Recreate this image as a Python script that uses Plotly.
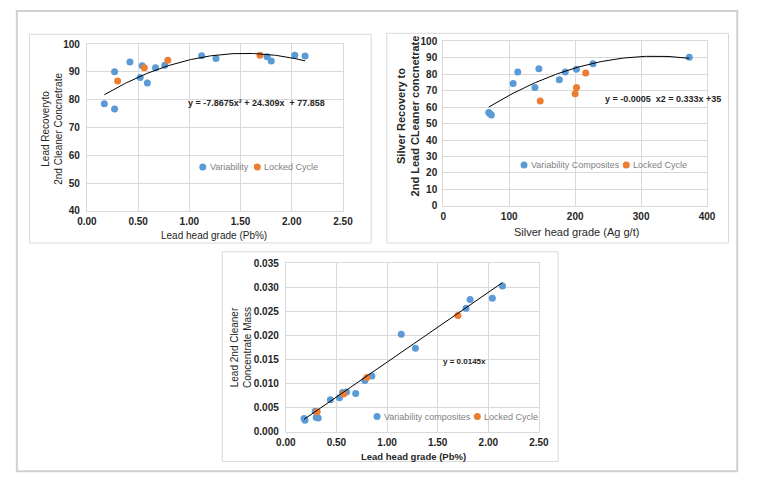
import numpy as np
import plotly.graph_objects as go

W, H = 757, 486

# ---------------- Data ----------------
# Panel 1: Lead recovery vs lead head grade
pb_var_1 = [0.17, 0.27, 0.27, 0.42, 0.52, 0.54, 0.59, 0.67, 0.76, 1.12, 1.26, 1.76, 1.80, 2.03, 2.13]
rec_var_1 = [78.5, 76.6, 90.0, 93.5, 88.0, 92.2, 86.0, 91.5, 92.4, 95.8, 94.8, 95.4, 93.9, 96.0, 95.7]
pb_lc_1 = [0.30, 0.56, 0.79, 1.69]
rec_lc_1 = [86.7, 91.5, 94.2, 96.0]
fit1_coef = [-7.8675, 24.309, 77.858]

# Panel 2: Silver recovery vs silver head grade
ag_var = [69, 71, 73, 106, 113, 139, 145, 176, 185, 202, 227, 373]
agrec_var = [56.7, 55.9, 55.1, 74.3, 81.2, 71.8, 83.2, 76.5, 81.2, 83.0, 86.2, 90.2]
ag_lc = [147, 200, 202, 216]
agrec_lc = [63.6, 68.1, 71.8, 80.6]
fit2_coef = [-0.000483, 0.3108, 40.85]

# Panel 3: Lead 2nd cleaner concentrate mass vs lead head grade
pb_var_3 = [0.18, 0.19, 0.29, 0.30, 0.32, 0.44, 0.53, 0.56, 0.60, 0.69, 0.78, 0.85,
            1.14, 1.28, 1.78, 1.82, 2.04, 2.14]
mass_var = [0.0028, 0.0024, 0.0043, 0.0030, 0.0029, 0.0067, 0.0071, 0.0082, 0.0083, 0.0080,
            0.0107, 0.0116, 0.0203, 0.0174, 0.0257, 0.0275, 0.0278, 0.0303]
pb_lc_3 = [0.31, 0.57, 0.80, 1.70]
mass_lc = [0.0042, 0.0079, 0.0113, 0.0242]
fit3_slope = 0.0145

x_ticks_pb = [0.0, 0.5, 1.0, 1.5, 2.0, 2.5]

BLUE = "#5B9BD5"
ORANGE = "#ED7D31"
GRID = "#d9d9d9"
FONT = "Liberation Sans, Arial, sans-serif"


def px(x):
    return x / W


def py(y):
    return 1 - y / H


fig = go.Figure()

# trend lines
xf1 = np.linspace(min(pb_var_1), max(pb_var_1), 100)
yf1 = np.polyval(fit1_coef, xf1)
xf2 = np.linspace(min(ag_var), max(ag_var), 100)
yf2 = np.polyval(fit2_coef, xf2)
xf3 = np.array([min(pb_var_3), max(pb_var_3)])
yf3 = fit3_slope * xf3

mk = dict(size=7)
# Panel 1
fig.add_trace(go.Scatter(x=pb_var_1, y=rec_var_1, mode="markers", name="Variability",
                         marker=dict(color=BLUE, **mk), xaxis="x", yaxis="y", showlegend=False))
fig.add_trace(go.Scatter(x=pb_lc_1, y=rec_lc_1, mode="markers", name="Locked Cycle",
                         marker=dict(color=ORANGE, **mk), xaxis="x", yaxis="y", showlegend=False))
fig.add_trace(go.Scatter(x=xf1, y=yf1, mode="lines", line=dict(color="black", width=1),
                         xaxis="x", yaxis="y", showlegend=False, hoverinfo="skip"))
# Panel 2
fig.add_trace(go.Scatter(x=ag_var, y=agrec_var, mode="markers", name="Variability Composites",
                         marker=dict(color=BLUE, **mk), xaxis="x2", yaxis="y2", showlegend=False))
fig.add_trace(go.Scatter(x=ag_lc, y=agrec_lc, mode="markers", name="Locked Cycle",
                         marker=dict(color=ORANGE, **mk), xaxis="x2", yaxis="y2", showlegend=False))
fig.add_trace(go.Scatter(x=xf2, y=yf2, mode="lines", line=dict(color="black", width=1),
                         xaxis="x2", yaxis="y2", showlegend=False, hoverinfo="skip"))
# Panel 3
fig.add_trace(go.Scatter(x=pb_var_3, y=mass_var, mode="markers", name="Variability composites",
                         marker=dict(color=BLUE, **mk), xaxis="x3", yaxis="y3", showlegend=False))
fig.add_trace(go.Scatter(x=pb_lc_3, y=mass_lc, mode="markers", name="Locked Cycle",
                         marker=dict(color=ORANGE, **mk), xaxis="x3", yaxis="y3", showlegend=False))
fig.add_trace(go.Scatter(x=xf3, y=yf3, mode="lines", line=dict(color="black", width=1),
                         xaxis="x3", yaxis="y3", showlegend=False, hoverinfo="skip"))

tickfont = dict(family=FONT, size=10, color="#262626", weight="bold")
common = dict(showgrid=True, gridcolor=GRID, gridwidth=1, showline=True, linecolor=GRID,
              linewidth=1, mirror=True, zeroline=False, ticks="", tickfont=tickfont)

fig.update_layout(
    width=W, height=H, margin=dict(l=0, r=0, t=0, b=0),
    paper_bgcolor="white", plot_bgcolor="white",
    xaxis=dict(domain=[px(79), px(342)], range=[0, 2.5], tickvals=x_ticks_pb, tickformat=".2f",
               anchor="y", ticklabelstandoff=1, **common),
    yaxis=dict(domain=[py(210), py(39)], range=[40, 100], dtick=10, anchor="x",
               ticklabelstandoff=4, **common),
    xaxis2=dict(domain=[px(445), px(716)], range=[0, 400], dtick=100, anchor="y2",
                ticklabelstandoff=1, **common),
    yaxis2=dict(domain=[py(205), py(36)], range=[0, 100], dtick=10, anchor="x2",
                ticklabelstandoff=3, **common),
    xaxis3=dict(domain=[px(283.3), px(543.3)], range=[0, 2.5], tickvals=x_ticks_pb, tickformat=".2f",
                anchor="y3", ticklabelstandoff=1, **common),
    yaxis3=dict(domain=[py(436.7), py(264)], range=[0, 0.035], dtick=0.005, tickformat=".3f",
                anchor="x3", ticklabelstandoff=4, **common),
)

shapes = []
# outer frame
shapes.append(dict(type="rect", xref="paper", yref="paper", x0=px(7), x1=px(747), y0=py(477), y1=py(5),
                   line=dict(color="#d0d0d0", width=2), layer="below"))
# panel boxes
for (x0, y0, x1, y1) in [(20, 29, 371, 243), (387, 28, 738, 243), (218, 252, 563, 467)]:
    shapes.append(dict(type="rect", xref="paper", yref="paper", x0=px(x0), x1=px(x1), y0=py(y1), y1=py(y0),
                       line=dict(color=GRID, width=1), layer="below"))

annotations = []


def ann(text, x, y, size, bold=False, color="#262626", angle=0, xanchor="center", yanchor="middle"):
    annotations.append(dict(text=text, x=px(x), y=py(y), xref="paper", yref="paper", showarrow=False,
                            textangle=angle, xanchor=xanchor, yanchor=yanchor,
                            font=dict(family=FONT, size=size, color=color,
                                      weight="bold" if bold else "normal")))


# legends (manual, Excel-style)
def legend_item(name, color, mx, my, size=9):
    shapes.append(dict(type="circle", xref="paper", yref="paper", xsizemode="pixel", ysizemode="pixel",
                       xanchor=px(mx), yanchor=py(my), x0=-3.5, x1=3.5, y0=-3.5, y1=3.5,
                       fillcolor=color, line=dict(width=0)))
    ann(name, mx + 5, my, size, color="#7f7f7f", xanchor="left")


legend_item("Variability", BLUE, 198, 165)
legend_item("Locked Cycle", ORANGE, 254, 165)
legend_item("Variability Composites", BLUE, 528, 163)
legend_item("Locked Cycle", ORANGE, 633, 163)
legend_item("Variability composites", BLUE, 377, 421)
legend_item("Locked Cycle", ORANGE, 480, 421)

# axis titles
ann("Lead head grade (Pb%)", 210, 235, 10)
ann("Lead Recoveryto<br>2nd Cleaner Concnetrate", 43, 126, 10, angle=-90)
ann("Silver head grade (Ag g/t)", 582, 232, 11)
ann("Silver Recovery to<br>2nd Lead CLeaner concnetrate", 409, 113, 11, bold=True, angle=-90)
ann("Lead head grade (Pb%)", 414, 462, 9.5, bold=True)
ann("Lead 2nd Cleaner<br>Concentrate Mass", 238, 350, 10, angle=-90)

# equations
ann("y = -7.8675x² + 24.309x  + 77.858", 181, 99, 9, bold=True, xanchor="left")
ann("y = -0.0005  x2 = 0.333x +35", 609, 95, 9, bold=True, xanchor="left")
ann("y = 0.0145x", 443, 364, 8, bold=True, xanchor="left")

fig.update_layout(shapes=shapes, annotations=annotations)

fig.write_html("out.html", config={"displayModeBar": False},
               post_script="document.body.style.margin='0';")
